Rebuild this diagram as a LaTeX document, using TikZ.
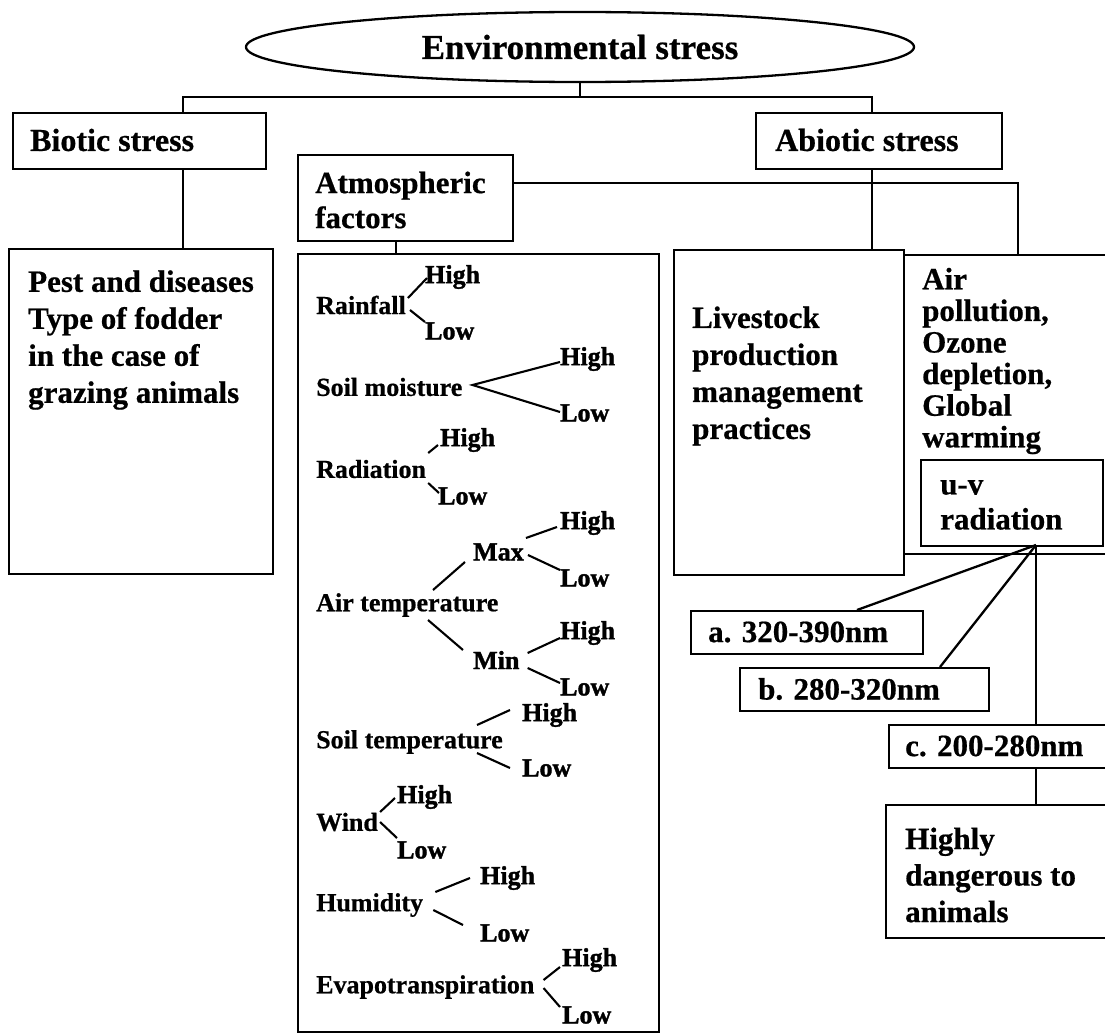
\documentclass[tikz,border=0pt]{standalone}
\usepackage{fontspec}
\setmainfont{Liberation Serif}[BoldFeatures={FakeBold=0.6}]
\newfontfamily\heavyfont{Liberation Serif}[BoldFeatures={FakeBold=1.4}]
\usetikzlibrary{shapes.geometric}
\begin{document}
\begin{tikzpicture}[x=1pt,y=-1pt,
  box/.style={draw, line width=2.3pt, rectangle, inner sep=0pt, anchor=north west},
  conn/.style={line width=2.3pt},
  thinln/.style={line width=2.1pt},
  ttl/.style={inner sep=0pt, anchor=west, align=left, font=\bfseries\fontsize{32}{35}\selectfont},
  body/.style={inner sep=0pt, anchor=west, align=left, font=\bfseries\fontsize{31}{37}\selectfont},
  fac/.style={inner sep=0pt, anchor=west, font=\bfseries\fontsize{26}{30}\selectfont},
  lv/.style={inner sep=0pt, anchor=west, font=\heavyfont\bfseries\fontsize{26}{30}\selectfont}
]
\useasboundingbox (0,0) rectangle (1105,1033);
\clip (0,0) rectangle (1105,1033);
\fill[white] (0,0) rectangle (1105,1033);

% top ellipse
\node[draw, ellipse, line width=2.3pt, minimum width=668pt, minimum height=70pt, inner sep=0pt,
  font=\bfseries\fontsize{35}{40}\selectfont] (env) at (580,47) {Environmental stress};

% boxes
\node[box, minimum width=253pt, minimum height=56pt] (bio) at (12,112) {};
\node[box, minimum width=246pt, minimum height=56pt] (abio) at (755,112) {};
\node[box, minimum width=215pt, minimum height=86pt] (atm) at (297,154) {};
\node[box, minimum width=264pt, minimum height=325pt] (pest) at (8,248) {};
\node[box, minimum width=361pt, minimum height=778pt] (big) at (297,253) {};
\node[box, minimum width=230pt, minimum height=325pt] (live) at (673,249) {};
\node[box, minimum width=212pt, minimum height=299pt] (air) at (903,254) {};
\node[box, minimum width=182pt, minimum height=86pt] (uv) at (920,459) {};
\node[box, minimum width=232pt, minimum height=43pt] (abox) at (690,610) {};
\node[box, minimum width=249pt, minimum height=43pt] (bbox) at (739,667) {};
\node[box, minimum width=227pt, minimum height=43pt] (cbox) at (888,724) {};
\node[box, minimum width=230pt, minimum height=133pt] (hi) at (885,804) {};

% box texts
\node[ttl] (tbio) at (30,140) {Biotic stress};
\node[ttl] (tabio) at (775,140) {Abiotic stress};
\node[ttl, font=\bfseries\fontsize{31}{35}\selectfont] (tatm) at (315,200) {Atmospheric\\factors};
\node[body] (tpest) at (28,340) {Pest and diseases\\Type of fodder\\in the case of\\grazing animals};
\node[body] (tlive) at (692,376) {Livestock\\production\\management\\practices};
\node[body, font=\bfseries\fontsize{31}{31.6}\selectfont] (tair) at (922,361) {Air\\pollution,\\Ozone\\depletion,\\Global\\warming};
\node[body, font=\bfseries\fontsize{31}{35}\selectfont] (tuv) at (940,505) {u-v\\radiation};
\node[body] (ta) at (708,632) {a. 320-390nm};
\node[body] (tb) at (758,689) {b. 280-320nm};
\node[body] (tc) at (905,746) {c. 200-280nm};
\node[body, font=\bfseries\fontsize{31}{36.5}\selectfont] (thi) at (905,875) {Highly\\dangerous to\\animals};

% connectors
\coordinate (hl) at (183,97);
\coordinate (hr) at (872,97);
\coordinate (ar) at (1018,183);
\coordinate (av) at (396,245);
\coordinate (uvp) at (1036,545);
\draw[conn] (env.south) -- (env.south |- hr);
\draw[conn] (bio.north -| hl) |- (hr) -- (abio.north -| hr);
\draw[conn] (bio.south -| hl) -- (pest.north -| hl);
\draw[conn] (abio.south -| hr) -- (live.north -| hr);
\draw[conn] (atm.east |- ar) -| (air.north -| ar);
\draw[conn] (atm.south -| av) -- (big.north -| av);
\draw[conn] (uv.south -| uvp) -- (cbox.north -| uvp);
\draw[conn] (uvp) -- (abox.north -| 857,0);
\draw[conn] (uvp) -- (bbox.north -| 940,0);
\draw[conn] (cbox.south -| uvp) -- (hi.north -| uvp);

% atmospheric factors
\node[fac] (rain) at (316,305) {Rainfall};
\node[lv] (rainH) at (425,277) {High};
\node[lv] (rainL) at (425,331) {Low};
\draw[thinln] ([shift={(2,-7)}]rain.east) -- ([shift={(2,1)}]rainH.west);
\draw[thinln] ([shift={(4,5)}]rain.east) -- ([shift={(0,-9)}]rainL.west);

\node[fac] (sm) at (316,387) {Soil moisture};
\node[lv] (smH) at (560,359) {High};
\node[lv] (smL) at (560,413) {Low};
\draw[thinln] ([shift={(0,3)}]smH.west) -- ([shift={(10,-2)}]sm.east) -- ([shift={(0,-1)}]smL.west);

\node[fac] (rad) at (316,469) {Radiation};
\node[lv] (radH) at (440,440) {High};
\node[lv] (radL) at (438,496) {Low};
\draw[thinln] ([shift={(2,-16)}]rad.east) -- ([shift={(-2,5)}]radH.west);
\draw[thinln] ([shift={(2,14)}]rad.east) -- ([shift={(1,-3)}]radL.west);

\node[fac] (airt) at (316,605) {Air temperature};
\node[lv] (max) at (473,552) {Max};
\node[lv] (min) at (473,660) {Min};
\draw[thinln] ([shift={(117,-15)}]airt.west) -- ([shift={(-8,10)}]max.west);
\draw[thinln] ([shift={(112,15)}]airt.west) -- ([shift={(-10,-10)}]min.west);
\node[lv] (maxH) at (560,523) {High};
\node[lv] (maxL) at (560,578) {Low};
\draw[thinln] ([shift={(2,-14)}]max.east) -- ([shift={(-3,4)}]maxH.west);
\draw[thinln] ([shift={(4,3)}]max.east) -- ([shift={(0,-8)}]maxL.west);
\node[lv] (minH) at (560,633) {High};
\node[lv] (minL) at (560,687) {Low};
\draw[thinln] ([shift={(8,-7)}]min.east) -- ([shift={(0,5)}]minH.west);
\draw[thinln] ([shift={(8,8)}]min.east) -- ([shift={(0,-4)}]minL.west);

\node[fac] (st) at (316,742) {Soil temperature};
\node[lv] (stH) at (522,715) {High};
\node[lv] (stL) at (522,768) {Low};
\draw[thinln] ([shift={(161,-17)}]st.west) -- ([shift={(-12,-5)}]stH.west);
\draw[thinln] ([shift={(161,11)}]st.west) -- ([shift={(-12,0)}]stL.west);

\node[fac] (wind) at (316,822) {Wind};
\node[lv] (windH) at (397,797) {High};
\node[lv] (windL) at (397,850) {Low};
\draw[thinln] ([shift={(2,-10)}]wind.east) -- ([shift={(-2,1)}]windH.west);
\draw[thinln] ([shift={(2,0)}]wind.east) -- ([shift={(0,-12)}]windL.west);

\node[fac] (hum) at (316,905) {Humidity};
\node[lv] (humH) at (480,878) {High};
\node[lv] (humL) at (480,933) {Low};
\draw[thinln] ([shift={(12,-13)}]hum.east) -- ([shift={(-10,0)}]humH.west);
\draw[thinln] ([shift={(10,5)}]hum.east) -- ([shift={(-17,-8)}]humL.west);

\node[fac] (evap) at (316,987) {Evapotranspiration};
\node[lv] (evH) at (562,960) {High};
\node[lv] (evL) at (562,1015) {Low};
\draw[thinln] ([shift={(9,-7)}]evap.east) -- ([shift={(-2,7)}]evH.west);
\draw[thinln] ([shift={(9,1)}]evap.east) -- ([shift={(-2,-8)}]evL.west);
\end{tikzpicture}
\end{document}
